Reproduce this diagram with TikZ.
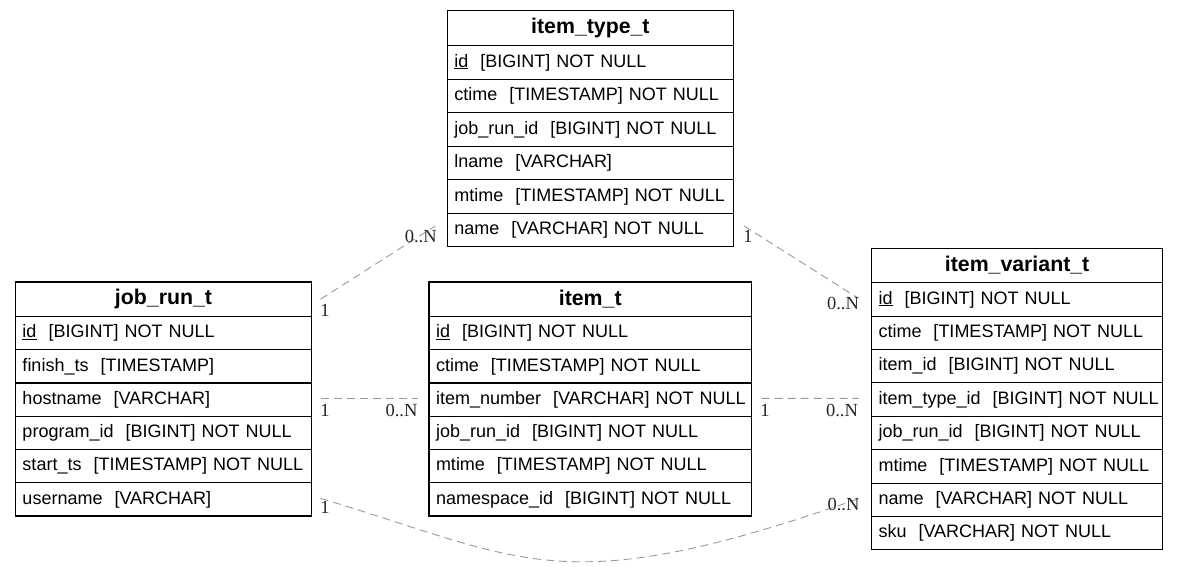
\documentclass[tikz,border=0pt]{standalone}
\usepackage{fontspec}
\setmainfont{Liberation Sans}
\newfontfamily\cardfont{Liberation Serif}
\usetikzlibrary{positioning,calc}
\tikzset{
  tbl/.style={draw=black, line width=1.1pt, rectangle, outer sep=0pt, inner ysep=0pt},
  hdr/.style={tbl, font=\fontsize{21.3}{24}\selectfont\bfseries, align=center},
  rowc/.style={tbl, font=\fontsize{18}{20}\selectfont, align=left, inner xsep=7pt},
  rel/.style={draw=black!40, line width=0.9pt, dash pattern=on 8pt off 5pt},
  card/.style={font=\cardfont\fontsize{18.5}{20}\selectfont, text=black!85, inner sep=0pt}
}
\newcommand{\rowtxt}[1]{\mbox{#1}}
\begin{document}
\begin{tikzpicture}[x=1pt,y=-1pt]
\useasboundingbox (0,0) rectangle (1179,567);
% job_run_t
\node[hdr, minimum width=296pt, minimum height=34.5pt, anchor=north] (jr-h) at (163.5,282) {job\_run\_t};
\node[rowc, text width=282pt, minimum height=33.25pt, below=0pt of jr-h] (jr-1) {\rowtxt{\underline{id}\ \ [BIGINT] NOT NULL}};
\node[rowc, text width=282pt, minimum height=33.25pt, below=0pt of jr-1] (jr-2) {\rowtxt{finish\_ts\ \ [TIMESTAMP]}};
\node[rowc, text width=282pt, minimum height=33.25pt, below=0pt of jr-2] (jr-3) {\rowtxt{hostname\ \ [VARCHAR]}};
\node[rowc, text width=282pt, minimum height=33.25pt, below=0pt of jr-3] (jr-4) {\rowtxt{program\_id\ \ [BIGINT] NOT NULL}};
\node[rowc, text width=282pt, minimum height=33.25pt, below=0pt of jr-4] (jr-5) {\rowtxt{start\_ts\ \ [TIMESTAMP] NOT NULL}};
\node[rowc, text width=282pt, minimum height=33.25pt, below=0pt of jr-5] (jr-6) {\rowtxt{username\ \ [VARCHAR]}};
% item_t
\node[hdr, minimum width=322.5pt, minimum height=34.5pt, anchor=north] (it-h) at (590.25,282) {item\_t};
\node[rowc, text width=308.5pt, minimum height=33.25pt, below=0pt of it-h] (it-1) {\rowtxt{\underline{id}\ \ [BIGINT] NOT NULL}};
\node[rowc, text width=308.5pt, minimum height=33.25pt, below=0pt of it-1] (it-2) {\rowtxt{ctime\ \ [TIMESTAMP] NOT NULL}};
\node[rowc, text width=308.5pt, minimum height=33.25pt, below=0pt of it-2] (it-3) {\rowtxt{item\_number\ \ [VARCHAR] NOT NULL}};
\node[rowc, text width=308.5pt, minimum height=33.25pt, below=0pt of it-3] (it-4) {\rowtxt{job\_run\_id\ \ [BIGINT] NOT NULL}};
\node[rowc, text width=308.5pt, minimum height=33.25pt, below=0pt of it-4] (it-5) {\rowtxt{mtime\ \ [TIMESTAMP] NOT NULL}};
\node[rowc, text width=308.5pt, minimum height=33.25pt, below=0pt of it-5] (it-6) {\rowtxt{namespace\_id\ \ [BIGINT] NOT NULL}};
% item_type_t
\node[hdr, minimum width=286.2pt, minimum height=35pt, anchor=north] (itt-h) at (590.4,10.7) {item\_type\_t};
\node[rowc, text width=272.2pt, minimum height=33.5pt, below=0pt of itt-h] (itt-1) {\rowtxt{\underline{id}\ \ [BIGINT] NOT NULL}};
\node[rowc, text width=272.2pt, minimum height=33.5pt, below=0pt of itt-1] (itt-2) {\rowtxt{ctime\ \ [TIMESTAMP] NOT NULL}};
\node[rowc, text width=272.2pt, minimum height=33.5pt, below=0pt of itt-2] (itt-3) {\rowtxt{job\_run\_id\ \ [BIGINT] NOT NULL}};
\node[rowc, text width=272.2pt, minimum height=33.5pt, below=0pt of itt-3] (itt-4) {\rowtxt{lname\ \ [VARCHAR]}};
\node[rowc, text width=272.2pt, minimum height=33.5pt, below=0pt of itt-4] (itt-5) {\rowtxt{mtime\ \ [TIMESTAMP] NOT NULL}};
\node[rowc, text width=272.2pt, minimum height=33.5pt, below=0pt of itt-5] (itt-6) {\rowtxt{name\ \ [VARCHAR] NOT NULL}};
% item_variant_t
\node[hdr, minimum width=291.2pt, minimum height=34.4pt, anchor=north] (iv-h) at (1017.1,248.3) {item\_variant\_t};
\node[rowc, text width=277.2pt, minimum height=33.4pt, below=0pt of iv-h] (iv-1) {\rowtxt{\underline{id}\ \ [BIGINT] NOT NULL}};
\node[rowc, text width=277.2pt, minimum height=33.4pt, below=0pt of iv-1] (iv-2) {\rowtxt{ctime\ \ [TIMESTAMP] NOT NULL}};
\node[rowc, text width=277.2pt, minimum height=33.4pt, below=0pt of iv-2] (iv-3) {\rowtxt{item\_id\ \ [BIGINT] NOT NULL}};
\node[rowc, text width=277.2pt, minimum height=33.4pt, below=0pt of iv-3] (iv-4) {\rowtxt{item\_type\_id\ \ [BIGINT] NOT NULL}};
\node[rowc, text width=277.2pt, minimum height=33.4pt, below=0pt of iv-4] (iv-5) {\rowtxt{job\_run\_id\ \ [BIGINT] NOT NULL}};
\node[rowc, text width=277.2pt, minimum height=33.4pt, below=0pt of iv-5] (iv-6) {\rowtxt{mtime\ \ [TIMESTAMP] NOT NULL}};
\node[rowc, text width=277.2pt, minimum height=33.4pt, below=0pt of iv-6] (iv-7) {\rowtxt{name\ \ [VARCHAR] NOT NULL}};
\node[rowc, text width=277.2pt, minimum height=33.4pt, below=0pt of iv-7] (iv-8) {\rowtxt{sku\ \ [VARCHAR] NOT NULL}};
% connectors
\draw[rel] ($(jr-h.east)+(9,0)$) -- ($(itt-6.west)+(-12,-4)$);
\draw[rel] ($(itt-6.east)+(10.5,-4)$) -- ($(iv-1.west)+(-13,-1)$);
\draw[rel] ($(jr-3.east)+(9,-1.3)$) -- ($(it-3.west)+(-11,-1.3)$);
\draw[rel] ($(it-3.east)+(10,-1.3)$) -- ($(iv-4.west)+(-13,-1.3)$);
\draw[rel] ($(jr-6.east)+(9,-1)$) .. controls (527,560) and (560,603) .. ($(iv-7.west)+(-13,-1)$);
% cardinality labels
\node[card] (c1a) at ($(jr-h.east)+(13.5,11)$) {1};
\node[card] (c1b) at ($(itt-6.west)+(-26.5,7)$) {0..N};
\node[card] (c2a) at ($(itt-6.east)+(14.5,6)$) {1};
\node[card] (c2b) at ($(iv-1.west)+(-28.5,4)$) {0..N};
\node[card] (c3a) at ($(jr-3.east)+(13.5,10.5)$) {1};
\node[card] (c3b) at ($(it-3.west)+(-27.5,10.5)$) {0..N};
\node[card] (c4a) at ($(it-3.east)+(13.5,10.5)$) {1};
\node[card] (c4b) at ($(iv-4.west)+(-29.5,10.5)$) {0..N};
\node[card] (c5a) at ($(jr-6.east)+(13.5,8.5)$) {1};
\node[card] (c5b) at ($(iv-7.west)+(-28,5)$) {0..N};
\end{tikzpicture}
\end{document}
